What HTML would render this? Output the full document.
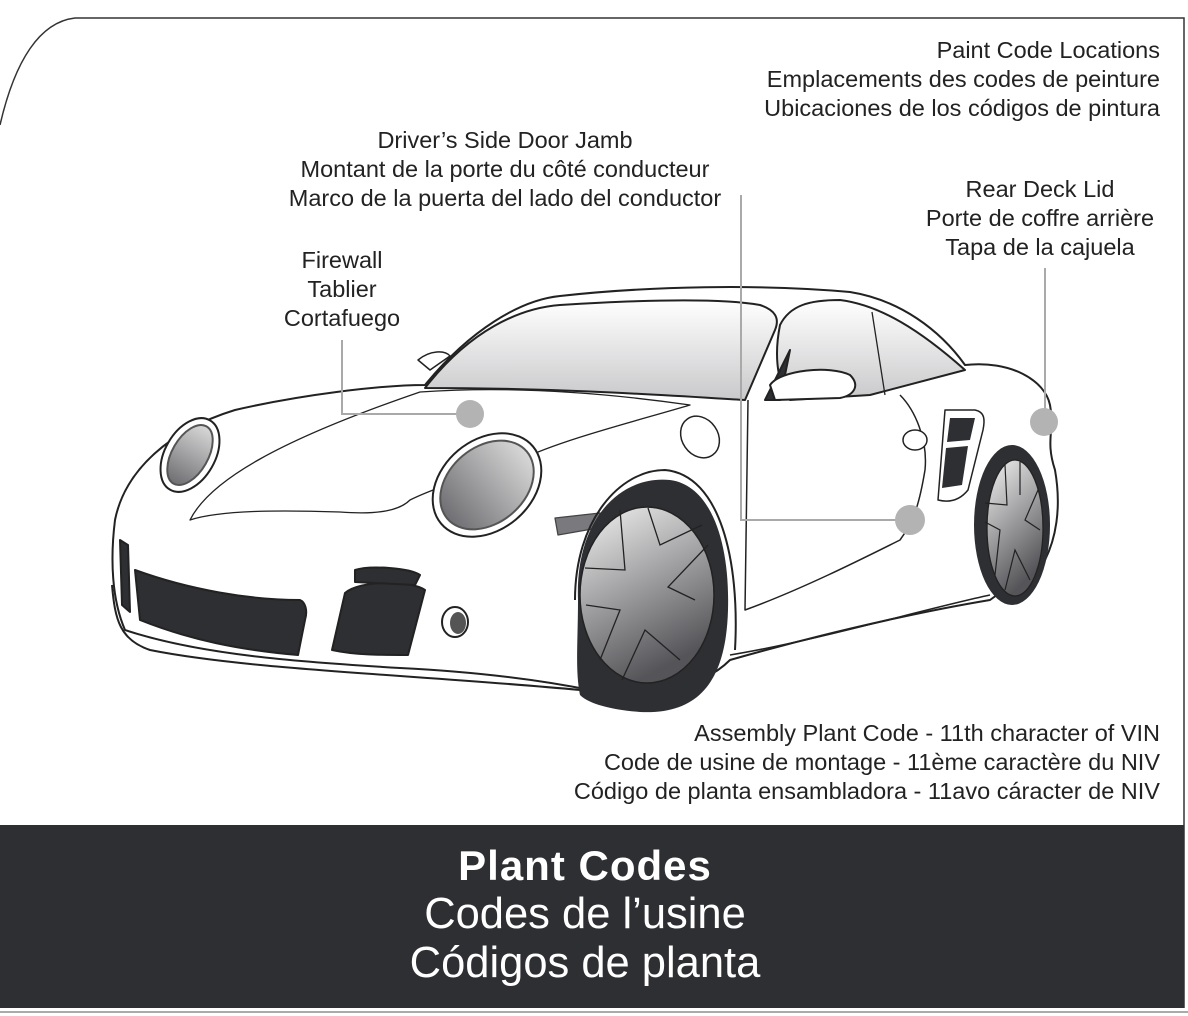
<!DOCTYPE html>
<html><head><meta charset="utf-8"><style>
html,body{margin:0;padding:0;background:#fff;}
body{width:1188px;height:1016px;overflow:hidden;position:relative;font-family:"Liberation Sans",Arial,sans-serif;}
</style></head><body>
<svg width="1188" height="1016" viewBox="0 0 1188 1016" xmlns="http://www.w3.org/2000/svg" style="position:absolute;left:0;top:0">
<defs>
<linearGradient id="rim" x1="0" y1="0" x2="0.4" y2="1"><stop offset="0" stop-color="#f2f2f2"/><stop offset="1" stop-color="#555559"/></linearGradient>
<linearGradient id="glass" x1="0" y1="0" x2="0" y2="1"><stop offset="0" stop-color="#ffffff"/><stop offset="1" stop-color="#c9c9cb"/></linearGradient>
<linearGradient id="lamp" x1="0" y1="0" x2="0" y2="1"><stop offset="0" stop-color="#d8d8d8"/><stop offset="1" stop-color="#6f6f73"/></linearGradient>
</defs>
<!-- frame -->
<path d="M0,125 C15,60 40,22 75,18 L1184,18 L1184,1008" fill="none" stroke="#333" stroke-width="1.5"/>
<rect x="0" y="825" width="1184" height="183" fill="#2e2f33"/>
<line x1="0" y1="1012" x2="1188" y2="1012" stroke="#aaa" stroke-width="2"/>

<!-- text -->
<g font-size="23.5" fill="#222" font-family="Liberation Sans, Arial, sans-serif">
<g text-anchor="end">
<text x="1160" y="58">Paint Code Locations</text>
<text x="1160" y="87">Emplacements des codes de peinture</text>
<text x="1160" y="116">Ubicaciones de los códigos de pintura</text>
<text x="1160" y="741">Assembly Plant Code - 11th character of VIN</text>
<text x="1160" y="770">Code de usine de montage - 11ème caractère du NIV</text>
<text x="1160" y="799">Código de planta ensambladora - 11avo cáracter de NIV</text>
</g>
<g text-anchor="middle">
<text x="505" y="148">Driver’s Side Door Jamb</text>
<text x="505" y="177">Montant de la porte du côté conducteur</text>
<text x="505" y="206">Marco de la puerta del lado del conductor</text>
<text x="1040" y="197">Rear Deck Lid</text>
<text x="1040" y="226">Porte de coffre arrière</text>
<text x="1040" y="255">Tapa de la cajuela</text>
<text x="342" y="268">Firewall</text>
<text x="342" y="297">Tablier</text>
<text x="342" y="326">Cortafuego</text>
</g>
</g>
<g text-anchor="middle" fill="#fff" font-family="Liberation Sans, Arial, sans-serif">
<text x="585" y="880" font-size="42" font-weight="bold" letter-spacing="1">Plant Codes</text>
<text x="585" y="928" font-size="43.5">Codes de l’usine</text>
<text x="585" y="977" font-size="43.5">Códigos de planta</text>
</g>

<!-- car -->
<g stroke="#222" stroke-width="2" fill="#fff" stroke-linejoin="round">
<path d="M115,520 C125,470 170,430 235,410 C300,395 380,385 425,385 C470,330 520,300 560,296 C650,286 760,284 850,292 C900,300 940,330 965,365 C1010,360 1045,380 1050,405 C1055,430 1045,440 1055,470 C1062,510 1055,540 1045,560 L990,600 C900,615 800,640 730,660 C700,690 640,700 590,690 C540,680 480,672 400,668 C300,662 200,655 125,630 C112,600 110,560 115,520 Z"/>
<path d="M112,585 C115,620 120,640 150,650 C250,670 420,675 580,690" fill="none"/>
<path d="M190,520 C210,480 280,440 420,392 C520,385 620,395 690,405 C640,420 560,440 520,460 C460,480 430,490 410,500 C400,510 380,515 340,512 C280,510 220,510 190,520 Z" fill="#fff" stroke-width="1.3"/>
<path d="M425,388 C470,330 520,308 560,305 C640,300 720,298 760,305 C775,310 780,318 775,330 L745,400 C660,395 560,388 425,388 Z" fill="url(#glass)" stroke-width="2"/>
<path d="M780,325 C790,305 810,300 840,300 C880,305 920,330 965,370 L870,395 L790,400 C775,380 775,350 780,325 Z" fill="url(#glass)"/>
<path d="M872,312 L885,395" fill="none" stroke-width="1.3"/>
<path d="M790,350 L765,400 L780,400 Z" fill="#2e2f33"/>
<path d="M770,385 C780,370 830,365 850,375 C860,385 855,395 840,398 L775,400 Z" fill="#fff"/>
<path d="M418,360 C430,350 445,350 450,356 L430,370 Z" fill="#fff" stroke-width="1.5"/>
<path d="M748,400 L745,610 C800,590 860,560 900,540 C915,520 920,500 925,470 C928,440 915,410 900,395" fill="none" stroke-width="1.5"/>
<ellipse cx="700" cy="437" rx="18" ry="22" transform="rotate(-35 700 437)" fill="#fff" stroke-width="1.5"/>
<ellipse cx="915" cy="440" rx="12" ry="10" fill="#fff" stroke-width="1.5"/>
<path d="M945,410 L975,410 C985,412 985,420 983,430 L968,490 C960,500 950,503 938,500 Z" fill="#fff" stroke-width="1.5"/>
<path d="M950,418 L975,418 L970,440 L947,442 Z M946,448 L968,446 L962,485 L942,488 Z" fill="#2e2f33" stroke="none"/>
<ellipse cx="190" cy="455" rx="25" ry="40" transform="rotate(30 190 455)" fill="#fff"/>
<ellipse cx="190" cy="455" rx="18" ry="33" transform="rotate(30 190 455)" fill="url(#lamp)" stroke="#555"/>
<ellipse cx="487" cy="485" rx="45" ry="60" transform="rotate(50 487 485)" fill="#fff"/>
<ellipse cx="487" cy="485" rx="38" ry="52" transform="rotate(50 487 485)" fill="url(#lamp)" stroke="#555"/>
<path d="M135,570 C190,590 250,600 300,600 C305,602 308,610 305,620 L298,655 C240,650 190,640 140,620 Z" fill="#2e2f33" stroke="#222"/>
<path d="M120,540 L128,545 L130,612 L122,605 Z" fill="#2e2f33"/>
<path d="M345,593 C360,580 410,580 425,590 L408,655 C380,655 355,655 332,650 Z" fill="#2e2f33"/>
<path d="M355,570 C370,565 410,568 420,575 L415,585 L355,582 Z" fill="#2e2f33"/>
<ellipse cx="455" cy="622" rx="13" ry="15" fill="#fff"/>
<ellipse cx="458" cy="623" rx="8" ry="11" fill="#555" stroke="none"/>
<path d="M730,655 C820,640 920,610 990,595" fill="none" stroke-width="1.5"/>
<path d="M555,518 L600,513 L598,528 L558,535 Z" fill="#7a7a7e" stroke="#444" stroke-width="1.3"/>
</g>
<path d="M578,600 C575,520 620,475 670,480 C710,485 730,540 728,610 C726,680 700,715 640,712 C615,710 590,705 580,695 C575,670 578,640 578,600 Z" fill="#2e2f33"/>
<path d="M575,600 C575,520 620,470 665,470 C720,475 740,560 735,650" fill="none" stroke="#222" stroke-width="2"/>
<ellipse cx="647" cy="595" rx="67" ry="88" fill="url(#rim)" stroke="#222" stroke-width="1.5"/>
<path d="M620,510 L625,570 L585,568 M586,605 L620,610 L600,660 M622,680 L645,630 L680,660 M695,600 L668,587 L708,545 M702,525 L660,545 L648,508" fill="none" stroke="#222" stroke-width="1.3"/>
<ellipse cx="1012" cy="525" rx="38" ry="80" fill="#2e2f33"/>
<ellipse cx="1015" cy="528" rx="28" ry="68" fill="url(#rim)" stroke="#222" stroke-width="1.3"/>
<path d="M1005,465 L1007,505 L985,503 M985,522 L1000,530 L995,575 M1005,590 L1015,550 L1030,580 M1040,530 L1025,520 L1038,490 M1020,462 L1020,495" fill="none" stroke="#222" stroke-width="1.2"/>
<g stroke="#a9a9a9" stroke-width="2" fill="none">
<path d="M342,340 L342,414 L460,414"/>
<path d="M741,195 L741,520 L900,520"/>
<path d="M1045,268 L1045,410"/>
</g>
<g fill="#b3b3b3">
<circle cx="470" cy="414" r="14"/>
<circle cx="910" cy="520" r="15"/>
<circle cx="1044" cy="422" r="14"/>
</g>
</svg>
</body></html>
